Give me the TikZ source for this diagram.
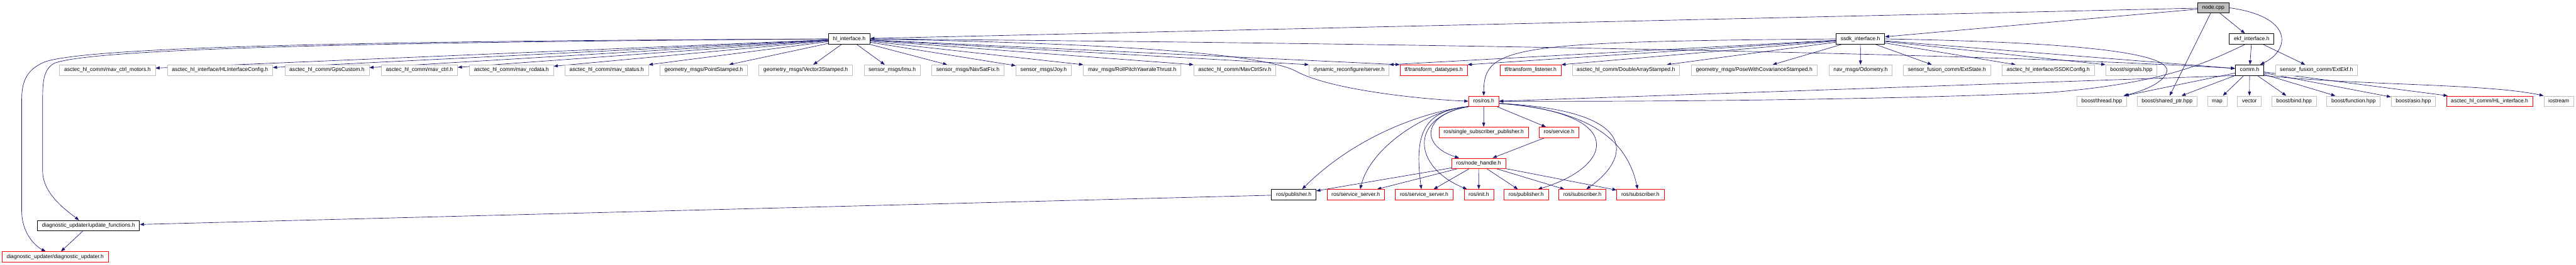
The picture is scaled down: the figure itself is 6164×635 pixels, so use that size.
\documentclass[tikz,border=0pt]{standalone}
\usepackage{fontspec}
\setmainfont{Liberation Sans}
\usetikzlibrary{arrows.meta, backgrounds}
\definecolor{cedge}{HTML}{191970}
\definecolor{cgrey}{HTML}{BFBFBF}
\definecolor{cred}{HTML}{FF0000}
\tikzset{
  file/.style={draw=#1, fill=white, line width=0.75pt, inner xsep=8.25pt, inner ysep=0pt, minimum height=18.75pt, text height=7pt, text depth=2pt, font=\fontsize{9.7}{11}\selectfont},
  file/.default=cgrey,
  docfile/.style={file=black, line width=1pt},
  cutfile/.style={file=cred},
  dep/.style={-{Triangle[length=7.5pt, width=5.5pt]}, draw=cedge, line width=0.75pt},
}

\begin{document}
\begin{tikzpicture}[x=0.75pt, y=-0.75pt]
  \useasboundingbox (0,0) rectangle (6164,635);
  % the file itself and its own headers
  \node[docfile, fill=cgrey] (main) at (5296,18.7) {node.cpp};
  \node[docfile] (hl) at (2032,93.3) {hl\_interface.h};
  \node[docfile] (ssdk) at (4451.5,93.3) {ssdk\_interface.h};
  \node[docfile] (ekf) at (5388,93.3) {ekf\_interface.h};
  % second row
  \node[file] (motors) at (257,168) {asctec\_hl\_comm/mav\_ctrl\_motors.h};
  \node[file] (hlcfg) at (526.4,168) {asctec\_hl\_interface/HLInterfaceConfig.h};
  \node[file] (gps) at (782.4,168) {asctec\_hl\_comm/GpsCustom.h};
  \node[file] (mavctrl) at (1003.7,168) {asctec\_hl\_comm/mav\_ctrl.h};
  \node[file] (rcdata) at (1223.9,168) {asctec\_hl\_comm/mav\_rcdata.h};
  \node[file] (status) at (1451.8,168) {asctec\_hl\_comm/mav\_status.h};
  \node[file] (pointst) at (1683.8,168) {geometry\_msgs/PointStamped.h};
  \node[file] (vecst) at (1927.9,168) {geometry\_msgs/Vector3Stamped.h};
  \node[file] (imu) at (2134.9,168) {sensor\_msgs/Imu.h};
  \node[file] (navsat) at (2315.9,168) {sensor\_msgs/NavSatFix.h};
  \node[file] (joy) at (2497.2,168) {sensor\_msgs/Joy.h};
  \node[file] (rpyt) at (2709,168) {mav\_msgs/RollPitchYawrateThrust.h};
  \node[file] (mavsrv) at (2954.6,168) {asctec\_hl\_comm/MavCtrlSrv.h};
  \node[file] (dynrec) at (3228.1,168) {dynamic\_reconfigure/server.h};
  \node[cutfile] (tfdt) at (3430.5,168) {tf/transform\_datatypes.h};
  \node[cutfile] (tfls) at (3662.4,168) {tf/transform\_listener.h};
  \node[file] (dblarr) at (3890.6,168) {asctec\_hl\_comm/DoubleArrayStamped.h};
  \node[file] (posecov) at (4197.4,168) {geometry\_msgs/PoseWithCovarianceStamped.h};
  \node[file] (odom) at (4452,168) {nav\_msgs/Odometry.h};
  \node[file] (extstate) at (4658.6,168) {sensor\_fusion\_comm/ExtState.h};
  \node[file] (ssdkcfg) at (4901.2,168) {asctec\_hl\_interface/SSDKConfig.h};
  \node[file] (signals) at (5099.8,168) {boost/signals.hpp};
  \node[docfile] (comm) at (5382.9,168) {comm.h};
  \node[file] (extekf) at (5542.8,168) {sensor\_fusion\_comm/ExtEkf.h};
  % third row
  \node[cutfile] (rosh) at (3550.4,242.5) {ros/ros.h};
  \node[file] (thread) at (5029.2,242.5) {boost/thread.hpp};
  \node[file] (sharedptr) at (5185.3,242.5) {boost/shared\_ptr.hpp};
  \node[file] (map) at (5305.4,242.5) {map};
  \node[file] (vector) at (5382.5,242.5) {vector};
  \node[file] (bind) at (5489.3,242.5) {boost/bind.hpp};
  \node[file] (function) at (5631.5,242.5) {boost/function.hpp};
  \node[file] (asio) at (5774.7,242.5) {boost/asio.hpp};
  \node[cutfile] (hlif) at (5957.2,242.5) {asctec\_hl\_comm/HL\_interface.h};
  \node[file] (iostream) at (6122.8,242.5) {iostream};
  % ros headers
  \node[cutfile] (single) at (3550.2,317) {ros/single\_subscriber\_publisher.h};
  \node[cutfile] (service) at (3730.4,317) {ros/service.h};
  \node[cutfile] (nodeh) at (3538,391.5) {ros/node\_handle.h};
  \node[docfile] (pubA) at (3095.8,466.5) {ros/publisher.h};
  \node[cutfile] (srvA) at (3244,466.5) {ros/service\_server.h};
  \node[cutfile] (srvB) at (3407.8,466.5) {ros/service\_server.h};
  \node[cutfile] (init) at (3538.6,466.5) {ros/init.h};
  \node[cutfile] (pubB) at (3652,466.5) {ros/publisher.h};
  \node[cutfile] (subA) at (3786.4,466.5) {ros/subscriber.h};
  \node[cutfile] (subB) at (3925.3,466.5) {ros/subscriber.h};
  % diagnostics
  \node[docfile] (updfun) at (211.8,541) {diagnostic\_updater/update\_functions.h};
  \node[cutfile] (diag) at (132,615.5) {diagnostic\_updater/diagnostic\_updater.h};

  \begin{scope}[on background layer]
  % node.cpp
  \draw[dep] (main) -- (hl);
  \draw[dep] (main) -- (ssdk);
  \draw[dep] (main) -- (ekf);
  \draw[dep] (main) -- (sharedptr);
  \draw[dep] (main.east) .. controls (5490,40) and (5480,120) .. ([xshift=-7pt]comm.north east);
  % hl_interface.h
  \draw[dep] (hl.west) .. controls (900,98) and (190,112) .. (103,150) .. controls (60,170) and (52,200) .. (52,240) -- (52,505) .. controls (52,560) and (85,590) .. ([xshift=-17pt]diag.north);
  \draw[dep] (hl.west) .. controls (900,101) and (215,116) .. (129,152) .. controls (104,167) and (102,195) .. (102,240) -- (102,410) .. controls (102,465) and (160,505) .. ([xshift=-17pt]updfun.north);
  \draw[dep] (hl) -- (motors);
  \draw[dep] (hl) -- (hlcfg);
  \draw[dep] (hl) -- (gps);
  \draw[dep] (hl) -- (mavctrl);
  \draw[dep] (hl) -- (rcdata);
  \draw[dep] (hl) -- (status);
  \draw[dep] (hl) -- (pointst);
  \draw[dep] (hl) -- (vecst);
  \draw[dep] (hl) -- (imu);
  \draw[dep] (hl) -- (navsat);
  \draw[dep] (hl) -- (joy);
  \draw[dep] (hl) -- (rpyt);
  \draw[dep] (hl) -- (mavsrv.north west);
  \draw[dep] (hl) -- (dynrec.north west);
  \draw[dep] (hl) -- (tfdt.north west);
  \draw[dep] (hl.east) .. controls (2700,105) and (3020,130) .. (3100,170) .. controls (3180,215) and (3400,238) .. (rosh.west);
  \draw[dep] (hl.east) .. controls (3500,105) and (4800,130) .. ([yshift=3pt]comm.west);
  % ssdk_interface.h
  \draw[dep] (ssdk.west) .. controls (3620,100) and (3550,110) .. (rosh.north);
  \draw[dep] (ssdk) -- (dynrec.north east);
  \draw[dep] (ssdk) -- (tfdt.north east);
  \draw[dep] (ssdk) -- (tfls.north east);
  \draw[dep] (ssdk) -- (dblarr);
  \draw[dep] (ssdk) -- (posecov);
  \draw[dep] (ssdk) -- (odom);
  \draw[dep] (ssdk) -- (extstate);
  \draw[dep] (ssdk) -- (ssdkcfg);
  \draw[dep] (ssdk) -- (signals.north west);
  \draw[dep] (ssdk) -- ([yshift=3pt]comm.west);
  \draw[dep] (ssdk.east) .. controls (4900,100) and (5190,120) .. (5185,170) .. controls (5180,200) and (5120,220) .. ([xshift=-6pt]thread.north east);
  % ekf_interface.h
  \draw[dep] (ekf) -- (comm);
  \draw[dep] (ekf) -- (extekf);
  \draw[dep] ([xshift=-12pt]ekf.south) .. controls (5280,150) and (5180,200) .. (4900,222) .. controls (4500,240) and (3900,244) .. (rosh.east);
  % comm.h
  \draw[dep] (comm.south west) -- (rosh.east);
  \draw[dep] (comm) -- ([xshift=-4pt]thread.north east);
  \draw[dep] (comm) -- (sharedptr);
  \draw[dep] (comm) -- (map);
  \draw[dep] (comm) -- (vector);
  \draw[dep] (comm) -- (bind);
  \draw[dep] (comm) -- (function);
  \draw[dep] (comm) -- (asio);
  \draw[dep] (comm) -- (hlif);
  \draw[dep] (comm.south east) .. controls (5650,205) and (5950,200) .. (iostream.north west);
  % ros/ros.h
  \draw[dep] (rosh) -- (single);
  \draw[dep] (rosh) -- (service);
  \draw[dep] (rosh.south west) .. controls (3400,275) and (3400,350) .. ([xshift=-35pt]nodeh.north);
  \draw[dep] (rosh.south west) .. controls (3370,280) and (3380,400) .. ([xshift=6pt]init.north west);
  \draw[dep] (rosh.south west) .. controls (3400,265) and (3385,330) .. ([xshift=-5pt]srvB.north);
  \draw[dep] (rosh.south west) .. controls (3420,262) and (3280,350) .. ([xshift=8pt]srvA.north);
  \draw[dep] (rosh.south west) .. controls (3420,265) and (3250,320) .. ([xshift=15pt]pubA.north);
  \draw[dep] ([yshift=-4pt]rosh.east) .. controls (3900,270) and (3860,400) .. ([xshift=21pt]pubB.north);
  \draw[dep] ([yshift=-4pt]rosh.east) .. controls (3930,265) and (3900,380) .. ([xshift=7pt]subA.north);
  \draw[dep] ([yshift=-4pt]rosh.east) .. controls (3780,262) and (3890,320) .. ([xshift=-5pt]subB.north);
  % ros/service.h and ros/node_handle.h
  \draw[dep] (service) -- (nodeh);
  \draw[dep] (nodeh) -- (pubA);
  \draw[dep] (nodeh) -- (srvA);
  \draw[dep] (nodeh) -- (srvB);
  \draw[dep] (nodeh) -- (init);
  \draw[dep] (nodeh) -- (pubB);
  \draw[dep] (nodeh) -- (subA);
  \draw[dep] (nodeh) -- (subB);
  % diagnostics
  \draw[dep] (pubA) -- (updfun);
  \draw[dep] (updfun) -- (diag);
  \end{scope}
\end{tikzpicture}
\end{document}
